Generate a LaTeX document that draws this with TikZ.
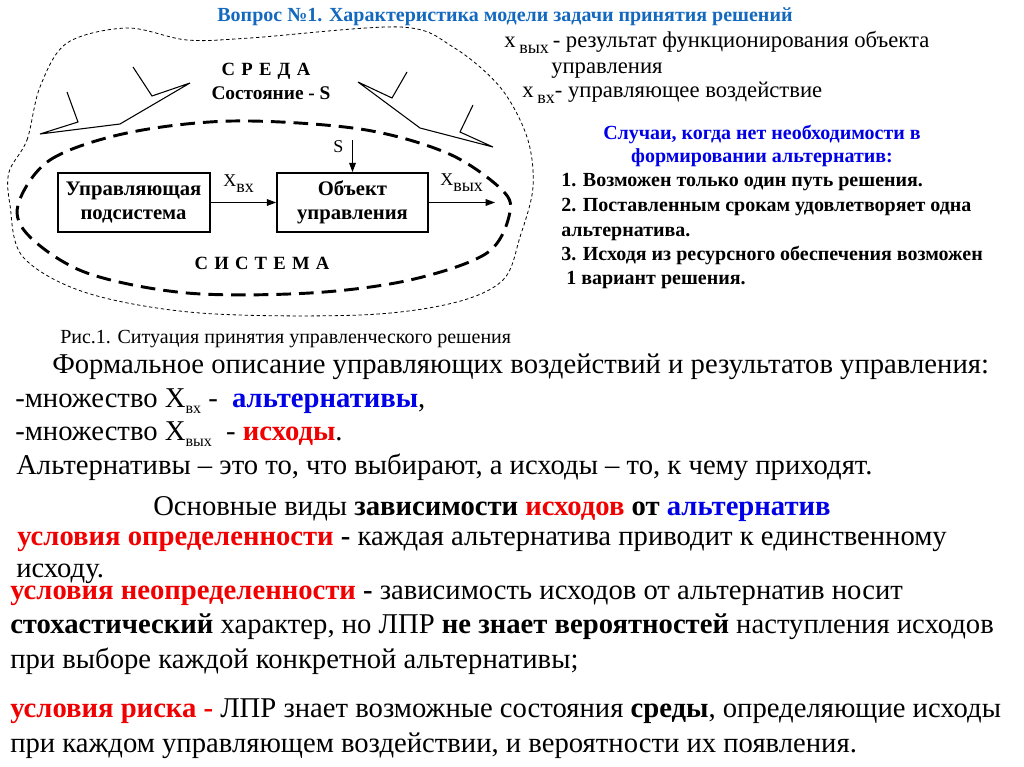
\documentclass[tikz,border=0pt]{standalone}
\usepackage{fontspec}
\setmainfont{Liberation Serif}
\usetikzlibrary{arrows.meta,positioning}
\definecolor{zagolovok}{RGB}{20,105,190}
\definecolor{sinij}{RGB}{0,0,230}
\definecolor{krasnyj}{RGB}{240,0,0}
\tikzset{
  blok/.style={
    draw=black,
    line width=1.5pt,
    align=center,
    minimum width=114pt,
    minimum height=44pt,
    inner sep=2pt,
    font=\fontsize{15.5}{18}\selectfont\bfseries
  },
  stroka/.style={
    anchor=base west,
    inner sep=0pt,
    font=\fontsize{21.5}{25}\selectfont
  },
  punkt/.style={
    anchor=base west,
    inner sep=0pt,
    font=\fontsize{15}{17}\selectfont\bfseries
  },
  metka/.style={
    anchor=base west,
    inner sep=0pt,
    font=\fontsize{13.5}{15}\selectfont
  },
  arrow/.style={
    -{Triangle[length=7pt,width=5pt]},
    line width=0.9pt
  },
  sreda/.style={
    line width=0.6pt,
    dash pattern=on 2.5pt off 2pt
  },
  sistema/.style={
    line width=2.2pt,
    dash pattern=on 11pt off 6pt
  },
  molnija/.style={
    line width=0.8pt
  }
}

\begin{document}
\begin{tikzpicture}[x=0.75pt,y=-0.75pt]
\useasboundingbox (0,0) rectangle (1024,767);
\draw[sreda] plot[smooth cycle, tension=0.55] coordinates {(9,172) (27,140) (40,87) (67,43) (127,28) (187,40) (250,38) (400,27) (453,47) (500,87) (527,137) (533,187) (520,237) (503,280) (453,303) (360,315) (200,313) (87,293) (23,257) (10,205)};
\draw[sistema] plot[smooth cycle, tension=0.55] coordinates {(18,205) (50,160) (127,133) (233,121) (360,129) (447,153) (500,188) (510,212) (487,253) (410,280) (310,293) (187,293) (87,273) (30,237)};
\draw[molnija] (67,92) -- (78,122) -- (40,134) -- (120,124) -- (190,83) -- (152,96) -- (133,67);
\draw[molnija] (407,72) -- (392,98) -- (358,82) -- (420,128) -- (493,147) -- (460,132) -- (473,105);
\node[blok] (upr) at (133.5,202.5) {Управляющая\\подсистема};
\node[blok, minimum width=113pt] (obj) at (352.5,202.5) {Объект\\управления};
\coordinate (svh) at (352.5,140);
\coordinate (vyh) at (495,202.5);
\draw[arrow] (upr) -- (obj);
\draw[arrow] (obj) -- (vyh);
\draw[arrow] (svh) -- (obj);
\node[metka] (xvh) at (223,186) {X\raisebox{-5pt}{вх}};
\node[metka] (xvyh) at (440,185) {X\raisebox{-5pt}{вых}};
\node[metka] (s) at (333,152) {S};
\node[anchor=base, font=\fontsize{14}{15}\selectfont\bfseries] (sreda) at (266,75) {С\,\,Р\,\,Е\,\,Д\,\,А};
\node[anchor=base, font=\fontsize{14.5}{15}\selectfont\bfseries] (sost) at (271,99) {Состояние - S};
\node[anchor=base, font=\fontsize{14}{15}\selectfont\bfseries] (sistema) at (262,269) {С\,\,И\,\,С\,\,Т\,\,Е\,\,М\,\,А};
\node[anchor=base, font=\fontsize{15}{17}\selectfont\bfseries, text=zagolovok] (title) at (505,22) {Вопрос №1. Характеристика модели задачи принятия решений};
\node[stroka, font=\fontsize{17}{19}\selectfont] (r1) at (504,48) {x\,\raisebox{-4.5pt}{\fontsize{13.5}{14}\selectfont вых}\,- результат функционирования объекта};
\node[stroka, font=\fontsize{17}{19}\selectfont] (r2) at (551,74) {управления};
\node[stroka, font=\fontsize{17}{19}\selectfont] (r3) at (522,98) {x\,\raisebox{-4.5pt}{\fontsize{13.5}{14}\selectfont вх}- управляющее воздействие};
\node[punkt, anchor=base, text=sinij] (sl1) at (762,139) {Случаи, когда нет необходимости в};
\node[punkt, anchor=base, text=sinij] (sl2) at (762,162) {формировании альтернатив:};
\node[punkt] (p1) at (561,186) {1. Возможен только один путь решения.};
\node[punkt] (p2) at (561,211) {2. Поставленным срокам удовлетворяет одна};
\node[punkt] (p2b) at (561,236) {альтернатива.};
\node[punkt] (p3) at (561,260) {3. Исходя из ресурсного обеспечения возможен};
\node[punkt] (p3b) at (566,284) {1 вариант решения.};
\node[stroka, font=\fontsize{15}{17}\selectfont] (ris) at (60,343) {Рис.1. Ситуация принятия управленческого решения};
\node[stroka] (f0) at (52,373) {Формальное описание управляющих воздействий и результатов управления:};
\node[stroka] (f1) at (15,407) {-множество X\raisebox{-4.5pt}{\fontsize{12}{14}\selectfont вх} -\ \ \textcolor{sinij}{\textbf{альтернативы}},};
\node[stroka] (f2) at (15,440) {-множество X\raisebox{-4.5pt}{\fontsize{12}{14}\selectfont вых}\ \ - \textcolor{krasnyj}{\textbf{исходы}}.};
\node[stroka] (f3) at (16,474) {Альтернативы – это то, что выбирают, а исходы – то, к чему приходят.};
\node[stroka] (vidy) at (153,515) {Основные виды \textbf{зависимости \textcolor{krasnyj}{исходов} от \textcolor{sinij}{альтернатив}}};
\node[stroka] (u1) at (17,545) {\textbf{\textcolor{krasnyj}{условия определенности} -} каждая альтернатива приводит к единственному};
\node[stroka] (u1b) at (16,577) {исходу.};
\node[stroka] (u2) at (10,599) {\textbf{\textcolor{krasnyj}{условия неопределенности} -} зависимость исходов от альтернатив носит};
\node[stroka] (u2b) at (10,633) {\textbf{стохастический} характер, но ЛПР \textbf{не знает вероятностей} наступления исходов};
\node[stroka] (u2c) at (10,668) {при выборе каждой конкретной альтернативы;};
\node[stroka] (u3) at (10,717) {\textbf{\textcolor{krasnyj}{условия риска -}} ЛПР знает возможные состояния \textbf{среды}, определяющие исходы};
\node[stroka] (u3b) at (10,752) {при каждом управляющем воздействии, и вероятности их появления.};
\end{tikzpicture}
\end{document}
